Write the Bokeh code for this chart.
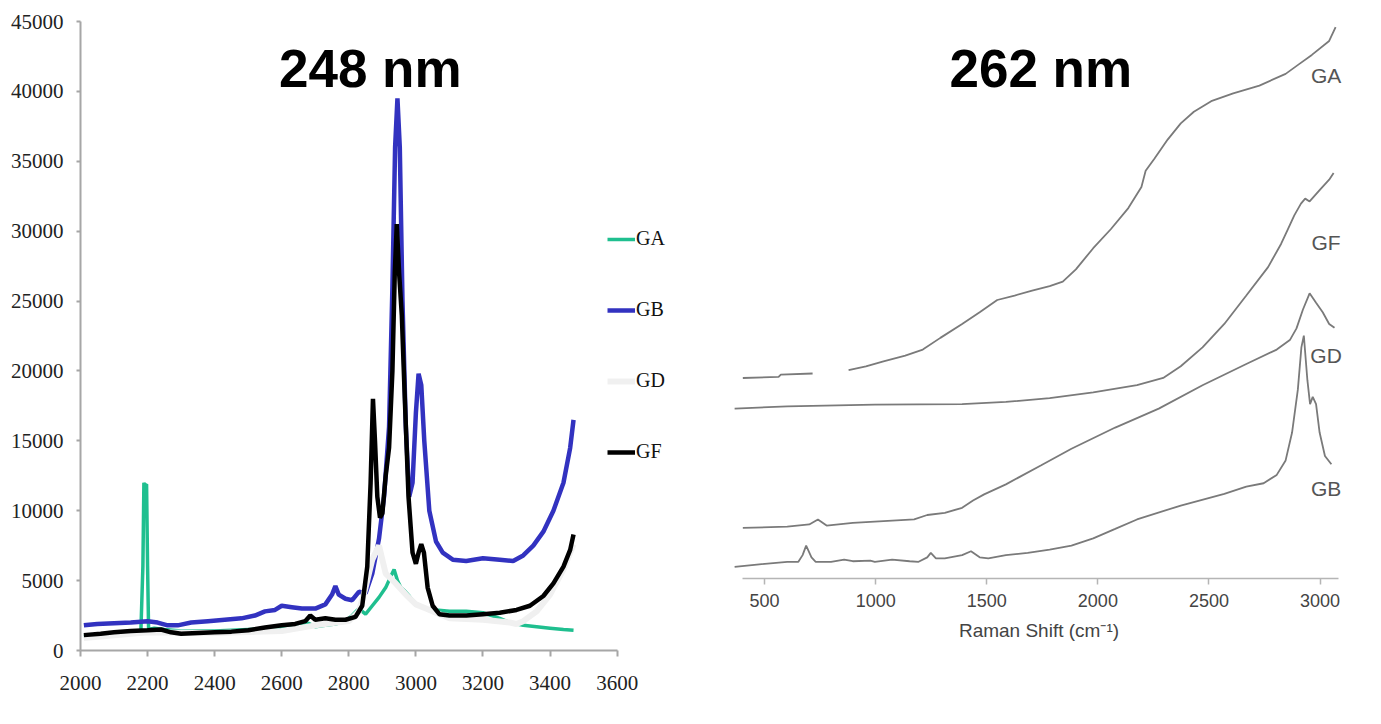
from bokeh.plotting import figure
from bokeh.layouts import row
from bokeh.models import Legend, LegendItem, Label, Range1d, FixedTicker
from bokeh.embed import file_html
from bokeh.resources import INLINE

# ---------------- Left panel (248 nm) data ----------------
ga_x = [2010, 2050, 2100, 2150, 2180, 2186, 2189, 2192, 2197, 2200, 2203, 2220, 2250, 2300, 2350,
        2400, 2450, 2500, 2550, 2600, 2650, 2680, 2700, 2730, 2760, 2790, 2810, 2830, 2850, 2870,
        2890, 2910, 2925, 2935, 2945, 2955, 2965, 2980, 3000, 3030, 3060, 3100, 3150, 3200, 3250,
        3280, 3320, 3360, 3400, 3440, 3470]
ga_y = [1000, 1100, 1200, 1300, 1350, 6000, 12000, 11800, 11900, 6000, 1500, 1600, 1500, 1400, 1400,
        1400, 1450, 1500, 1550, 1600, 1700, 1950, 1700, 1800, 1900, 2100, 2500, 3000, 2600, 3200,
        3800, 4500, 5300, 5800, 5000, 4500, 4300, 3900, 3300, 3000, 2900, 2800, 2800, 2700, 2300,
        2000, 1800, 1700, 1600, 1500, 1450]

gb_x = [2010, 2050, 2100, 2150, 2200, 2230, 2260, 2290, 2330, 2380, 2430, 2480, 2520, 2550, 2580,
        2600, 2630, 2660, 2700, 2730, 2750, 2760, 2770, 2790, 2810, 2830, 2850, 2870, 2890, 2905,
        2920, 2930, 2938, 2945, 2952, 2960, 2970, 2980, 2990, 3000, 3008, 3016, 3025, 3040, 3060,
        3080, 3110, 3150, 3200, 3250, 3290, 3320, 3350, 3380, 3410, 3440, 3460, 3470]
gb_y = [1800, 1900, 1950, 2000, 2100, 2000, 1800, 1800, 2000, 2100, 2200, 2300, 2500, 2800, 2900,
        3200, 3100, 3000, 3000, 3300, 4000, 4600, 4000, 3700, 3600, 4200, 4100, 5500, 8000, 11000,
        16000, 26000, 36000, 39500, 36000, 25000, 16000, 11000, 12000, 17000, 19800, 19000, 15000, 10000, 7800,
        7000, 6500, 6400, 6600, 6500, 6400, 6800, 7500, 8500, 10000, 12000, 14500, 16500]

gd_x = [2010, 2200, 2400, 2600, 2700, 2800, 2830, 2850, 2870, 2890, 2910, 2940, 2970, 3000, 3030,
        3060, 3100, 3200, 3280, 3300, 3320, 3360, 3400, 3440, 3470]
gd_y = [900, 1300, 1250, 1400, 1800, 2100, 2800, 4500, 6500, 7500, 5500, 4800, 4000, 3300, 3000,
        2700, 2300, 2200, 2000, 1900, 2100, 2800, 4000, 5800, 7600]

gf_x = [2010, 2060, 2100, 2150, 2200, 2240, 2270, 2300, 2350, 2400, 2450, 2500, 2550, 2600, 2640,
        2670, 2685, 2700, 2730, 2760, 2790, 2820, 2840, 2855, 2865, 2872, 2878, 2885, 2893, 2900,
        2910, 2920, 2930, 2937, 2943, 2950, 2958, 2967, 2978, 2990, 3000, 3008, 3016, 3024, 3035,
        3050, 3070, 3100, 3150, 3200, 3250, 3300, 3340, 3380, 3410, 3440, 3460, 3470]
gf_y = [1100, 1200, 1300, 1400, 1450, 1500, 1300, 1200, 1250, 1300, 1350, 1450, 1650, 1800, 1900,
        2100, 2500, 2200, 2300, 2200, 2200, 2400, 3200, 6000, 12000, 18000, 15000, 11000, 9500, 9800,
        12500, 14500, 20000, 27000, 30500, 27000, 24000, 18000, 11000, 7000, 6200, 7000, 7600, 7000, 4500,
        3200, 2600, 2500, 2500, 2600, 2700, 2900, 3200, 3900, 4800, 6000, 7200, 8300]

left_xticks = list(range(2000, 3601, 200))
left_yticks = list(range(0, 45001, 5000))

# ---------------- Right panel (262 nm) data (arbitrary units) ----------------
nan = float("nan")
r_ga_x = [402, 563, 573, 716, 760, 878, 956, 1035, 1133, 1212, 1291, 1389, 1468, 1547, 1625, 1704,
          1783, 1842, 1901, 1979, 2058, 2137, 2196, 2215, 2255, 2314, 2373, 2432, 2510, 2609, 2727,
          2845, 2904, 2963, 3041, 3070]
r_ga_y = [36.0, 36.2, 36.6, 36.8, nan, 37.4, 38.1, 39.0, 40.0, 41.1, 43.2, 45.7, 47.8, 50.0, 50.8, 51.7,
          52.5, 53.3, 55.5, 59.3, 62.7, 66.5, 70.3, 73.2, 75.4, 78.8, 81.7, 83.8, 85.7, 87.1, 88.5,
          90.6, 92.3, 94.0, 96.5, 99.0]

r_gf_x = [365, 602, 996, 1389, 1586, 1783, 1979, 2176, 2294, 2373, 2471, 2569, 2668, 2766, 2825,
          2855, 2884, 2914, 2933, 2953, 2973, 3002, 3041, 3061]
r_gf_y = [30.5, 30.9, 31.2, 31.3, 31.7, 32.4, 33.4, 34.7, 36.0, 38.1, 41.5, 45.7, 50.8, 55.9, 60.1,
          62.7, 65.2, 67.3, 68.2, 67.7, 68.6, 69.9, 71.6, 72.8]

r_gd_x = [402, 602, 701, 740, 779, 897, 1035, 1173, 1232, 1311, 1389, 1438, 1488, 1586, 1743, 1881,
          2078, 2274, 2471, 2668, 2805, 2864, 2894, 2923, 2953, 2982, 3012, 3041, 3065]
r_gd_y = [9.1, 9.3, 9.7, 10.6, 9.5, 10.0, 10.3, 10.6, 11.4, 11.8, 12.7, 14.0, 15.1, 16.9, 20.3, 23.3,
          27.1, 30.5, 34.7, 38.5, 41.1, 42.8, 44.9, 48.3, 51.2, 49.5, 47.8, 45.7, 45.0]

r_gb_x = [365, 465, 602, 652, 671, 687, 711, 730, 799, 858, 897, 976, 996, 1074, 1153, 1193, 1232,
          1248, 1271, 1311, 1389, 1429, 1468, 1507, 1586, 1684, 1783, 1881, 1979, 2078, 2176, 2373,
          2569, 2668, 2746, 2805, 2845, 2874, 2900, 2916, 2927, 2943, 2955, 2967, 2982, 2998, 3022, 3051]
r_gb_y = [2.1, 2.5, 3.0, 3.0, 4.2, 5.9, 3.8, 3.0, 3.0, 3.4, 3.1, 3.2, 3.0, 3.4, 3.1, 3.0, 3.8,
          4.6, 3.6, 3.6, 4.2, 4.9, 3.8, 3.6, 4.2, 4.6, 5.2, 5.9, 7.2, 8.9, 10.6, 13.1,
          15.2, 16.5, 17.1, 18.6, 21.2, 26.2, 33.9, 41.5, 43.6, 35.6, 31.3, 32.6, 31.3, 26.2, 22.0, 20.5]

right_labels = ["GA", "GF", "GD", "GB"]
right_label_y = [90.3, 60.3, 40.0, 16.2]
right_xticks = [500, 1000, 1500, 2000, 2500, 3000]

SERIF = "Liberation Serif"
SANS = "Liberation Sans"

# ---------------- Left figure ----------------
# x range extends past the axis end so the legend sits inside the frame
p1 = figure(frame_width=597, frame_height=629, min_border_left=80, min_border_top=21,
            min_border_right=31, min_border_bottom=55,
            x_range=Range1d(2000, 3780), y_range=Range1d(0, 45000),
            output_backend="svg", toolbar_location=None)
p1.outline_line_color = None
p1.grid.visible = False
p1.xaxis.ticker = FixedTicker(ticks=left_xticks)
p1.xaxis.bounds = (2000, 3600)
p1.yaxis.ticker = FixedTicker(ticks=left_yticks)
for ax in (p1.xaxis[0], p1.yaxis[0]):
    ax.axis_line_color = "#a6a6a6"
    ax.axis_line_width = 2
    ax.major_tick_line_color = "#a6a6a6"
    ax.major_tick_line_width = 2
    ax.major_tick_in = 0
    ax.minor_tick_line_color = None
    ax.major_label_text_font = SERIF
    ax.major_label_text_font_size = "21px"
    ax.major_label_text_color = "#222222"
p1.xaxis.major_tick_out = 6
p1.yaxis.major_tick_out = 4
p1.xaxis.major_label_standoff = 19
p1.yaxis.major_label_standoff = 13

r_ga = p1.line(ga_x, ga_y, line_color="#1fbf8f", line_width=3.5)
r_gb = p1.line(gb_x, gb_y, line_color="#3232c0", line_width=4.5)
r_gd = p1.line(gd_x, gd_y, line_color="#f0f0f0", line_width=6)
r_gf = p1.line(gf_x, gf_y, line_color="#000000", line_width=4.5)

legend = Legend(items=[LegendItem(label="GA", renderers=[r_ga]),
                       LegendItem(label="GB", renderers=[r_gb]),
                       LegendItem(label="GD", renderers=[r_gd]),
                       LegendItem(label="GF", renderers=[r_gf])],
                location=(527, 187), orientation="vertical",
                glyph_width=28, glyph_height=20, label_height=20, spacing=48,
                padding=0, margin=0, label_standoff=1,
                border_line_color=None, background_fill_alpha=0,
                label_text_font=SERIF, label_text_font_size="20px", label_text_color="#111111")
p1.add_layout(legend)

p1.add_layout(Label(x=2864, y=41637, text="248 nm", text_align="center", text_baseline="middle",
                    text_font=SANS, text_font_style="bold", text_font_size="53px", text_color="#000000"))

# ---------------- Right figure ----------------
p2 = figure(frame_width=611, frame_height=557, min_border_left=25, min_border_top=21,
            min_border_right=24, min_border_bottom=80,
            x_range=Range1d(360, 3110), y_range=Range1d(0, 100),
            output_backend="svg", toolbar_location=None, y_axis_location=None)
p2.outline_line_color = None
p2.grid.visible = False
xa = p2.xaxis[0]
xa.bounds = (400, 3085)
xa.ticker = FixedTicker(ticks=right_xticks)
xa.axis_line_color = "#b5b5b5"
xa.axis_line_width = 1.5
xa.major_tick_line_color = "#b5b5b5"
xa.major_tick_line_width = 1.5
xa.major_tick_in = 0
xa.major_tick_out = 6
xa.minor_tick_line_color = None
xa.major_label_text_font = SANS
xa.major_label_text_font_size = "18px"
xa.major_label_text_color = "#444444"
xa.major_label_standoff = 9
xa.axis_label = "Raman Shift (cm\u207b\u00b9)"
xa.axis_label_text_font = SANS
xa.axis_label_text_font_style = "normal"
xa.axis_label_text_font_size = "19px"
xa.axis_label_text_color = "#444444"
xa.axis_label_standoff = 10

for xs, ys in ((r_ga_x, r_ga_y), (r_gf_x, r_gf_y), (r_gd_x, r_gd_y), (r_gb_x, r_gb_y)):
    p2.line(xs, ys, line_color="#7a7a7a", line_width=1.8)

p2.text(x=[3027] * len(right_labels), y=right_label_y, text=right_labels,
        text_align="center", text_baseline="middle", text_font={"value": SANS},
        text_font_size={"value": "21px"}, text_color="#555555")

p2.add_layout(Label(x=1743, y=91.6, text="262 nm", text_align="center", text_baseline="middle",
                    text_font=SANS, text_font_style="bold", text_font_size="53px", text_color="#000000"))

layout = row(p1, p2)
open("out.html", "w").write(file_html(layout, INLINE))
